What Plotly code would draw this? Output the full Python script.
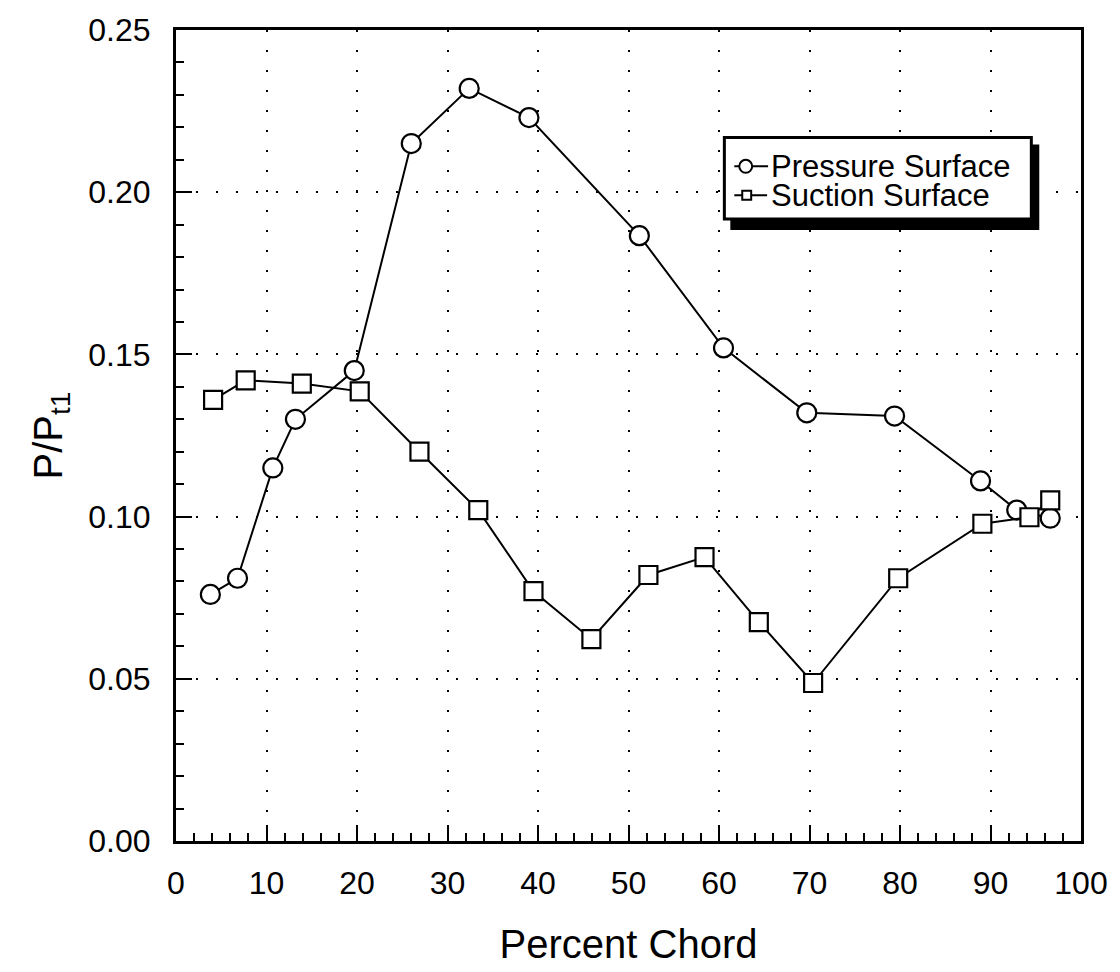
import plotly.graph_objects as go

# ---- data ----
pressure_x = [3.8, 6.8, 10.7, 13.2, 19.7, 26.0, 32.4, 39.0, 51.2, 60.5, 69.7, 79.4, 88.9, 92.9, 96.6]
pressure_y = [0.076, 0.081, 0.115, 0.130, 0.145, 0.215, 0.232, 0.223, 0.1866, 0.152, 0.132, 0.131, 0.111, 0.102, 0.0995]
suction_x = [4.1, 7.7, 13.9, 20.3, 26.9, 33.4, 39.5, 45.9, 52.2, 58.4, 64.4, 70.4, 79.8, 89.1, 94.3, 96.6]
suction_y = [0.136, 0.142, 0.141, 0.1386, 0.120, 0.102, 0.077, 0.0622, 0.082, 0.0875, 0.0675, 0.0487, 0.081, 0.0978, 0.0998, 0.105]
series_names = ["Pressure Surface", "Suction Surface"]
x_title = "Percent Chord"
y_title = "P/P<sub>t1</sub>"

W, H = 1120, 972
L, R, T, B = 176, 33, 26, 131
PW, PH = W - L - R, H - T - B
FONT = "Liberation Sans, Arial, Helvetica, sans-serif"


def px_x(p):
    return (p - L) / PW


def px_y(p):
    return (H - B - p) / PH


fig = go.Figure()
fig.add_trace(go.Scatter(
    x=pressure_x, y=pressure_y, mode="lines+markers", name=series_names[0],
    line=dict(color="black", width=2),
    marker=dict(symbol="circle", size=19, color="white", line=dict(color="black", width=2.2)),
    showlegend=False,
))
fig.add_trace(go.Scatter(
    x=suction_x, y=suction_y, mode="lines+markers", name=series_names[1],
    line=dict(color="black", width=2),
    marker=dict(symbol="square", size=18, color="white", line=dict(color="black", width=2.2)),
    showlegend=False,
))

axis_common = dict(
    showline=True, linecolor="black", linewidth=3, mirror=True,
    ticks="inside", ticklen=16, tickwidth=2, tickcolor="black",
    showgrid=True, gridcolor="black", gridwidth=1.6, griddash="2px,18px",
    zeroline=False,
    tickfont=dict(family=FONT, size=32, color="black"),
)

fig.update_xaxes(
    range=[0, 100], dtick=10, tick0=0,
    minor=dict(dtick=2, ticks="inside", ticklen=8, tickwidth=2, tickcolor="black", showgrid=False),
    title=dict(text=x_title, font=dict(family=FONT, size=40, color="black"), standoff=30),
    ticklabelstandoff=12,
    **axis_common,
)
fig.update_yaxes(
    range=[0, 0.25], dtick=0.05, tick0=0, tickformat=".2f",
    minor=dict(dtick=0.01, ticks="inside", ticklen=8, tickwidth=2, tickcolor="black", showgrid=False),
    title=dict(text=y_title, font=dict(family=FONT, size=40, color="black"), standoff=14),
    ticklabelstandoff=16,
    **axis_common,
)

# ---- hand-drawn legend box with drop shadow (as in the original) ----
shapes = [
    dict(type="rect", xref="paper", yref="paper", x0=px_x(734), x1=px_x(1045), y0=px_y(227), y1=px_y(141),
         fillcolor="black", line=dict(width=0), layer="above"),
    dict(type="rect", xref="paper", yref="paper", x0=px_x(728), x1=px_x(1037), y0=px_y(216), y1=px_y(134),
         fillcolor="white", line=dict(color="black", width=3), layer="above"),
    # pressure symbol
    dict(type="line", xref="paper", yref="paper", x0=px_x(738), x1=px_x(772), y0=px_y(163), y1=px_y(163),
         line=dict(color="black", width=2), layer="above"),
    dict(type="circle", xref="paper", yref="paper", x0=px_x(743), x1=px_x(756), y0=px_y(169.5), y1=px_y(156.5),
         fillcolor="white", line=dict(color="black", width=2), layer="above"),
    # suction symbol
    dict(type="line", xref="paper", yref="paper", x0=px_x(738), x1=px_x(771), y0=px_y(192), y1=px_y(192),
         line=dict(color="black", width=2), layer="above"),
    dict(type="rect", xref="paper", yref="paper", x0=px_x(746), x1=px_x(755), y0=px_y(196.5), y1=px_y(187.5),
         fillcolor="white", line=dict(color="black", width=2), layer="above"),
]
annotations = [
    dict(xref="paper", yref="paper", x=px_x(773), y=px_y(163), text=series_names[0], showarrow=False,
         xanchor="left", yanchor="middle", font=dict(family=FONT, size=31, color="black")),
    dict(xref="paper", yref="paper", x=px_x(773), y=px_y(192), text=series_names[1], showarrow=False,
         xanchor="left", yanchor="middle", font=dict(family=FONT, size=31, color="black")),
]

fig.update_layout(
    width=W, height=H,
    margin=dict(l=L, r=R, t=T, b=B, pad=0),
    paper_bgcolor="white", plot_bgcolor="white",
    showlegend=False,
    shapes=shapes, annotations=annotations,
    font=dict(family=FONT, color="black"),
)

fig.write_html("out.html")
